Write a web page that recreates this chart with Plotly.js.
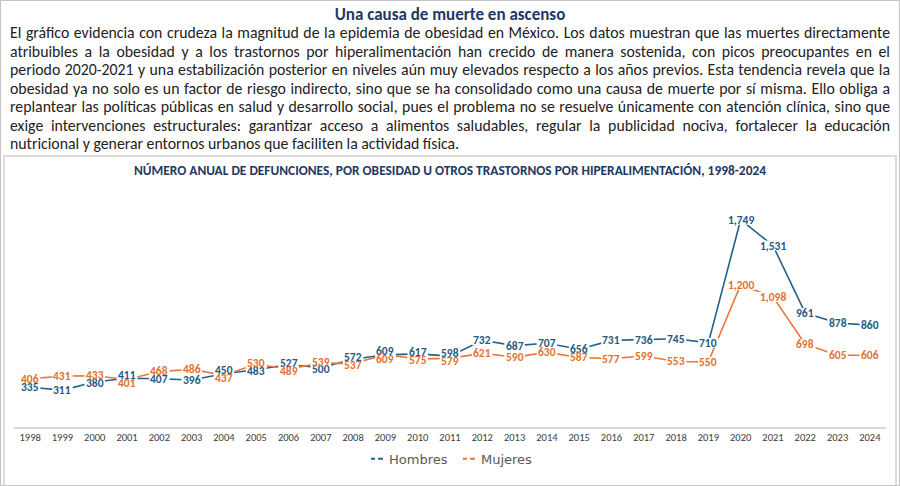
<!DOCTYPE html>
<html>
<head>
<meta charset="utf-8">
<script src="https://cdn.plot.ly/plotly-3.0.1.min.js"></script>
<style>
  html, body { margin:0; padding:0; background:#fff; }
  #page { position:relative; width:900px; height:486px; overflow:hidden; background:#fff; }
  #outer { position:absolute; left:0; top:0; width:900px; height:486px; box-sizing:border-box; border:1px solid #c4c4c4; pointer-events:none; z-index:5; }
  #box { position:absolute; left:3px; top:155px; width:894px; height:340px; box-sizing:border-box; border:2px solid #dcdcdc; pointer-events:none; z-index:4; }
  #chart { position:absolute; left:0; top:0; width:900px; height:486px; }
  #head { position:absolute; left:0; top:5px; width:900px; text-align:center; font-family:Carlito, 'DejaVu Sans Condensed', sans-serif; font-weight:bold; font-size:17px; line-height:20px; color:#1f3864; z-index:3; }
  #para { position:absolute; left:10px; top:24px; width:880px; font-family:Carlito, 'DejaVu Sans Condensed', sans-serif; font-size:15.8px; line-height:18.5px; color:#222; z-index:3; }
  #para div { text-align:justify; text-align-last:justify; white-space:nowrap; height:18.5px; }
  #para div.last { text-align-last:left; }
</style>
</head>
<body>
<div id="page">
  <div id="chart"></div>
  <div id="head">Una causa de muerte en ascenso</div>
  <div id="para"></div>
  <div id="box"></div>
  <div id="outer"></div>
</div>
<script>
// ---- data ----
const years = ['1998','1999','2000','2001','2002','2003','2004','2005','2006','2007','2008','2009','2010','2011','2012','2013','2014','2015','2016','2017','2018','2019','2020','2021','2022','2023','2024'];
const hombres = [335,311,380,411,407,396,450,483,527,500,572,609,617,598,732,687,707,656,731,736,745,710,1749,1531,961,878,860];
const mujeres = [406,431,433,401,468,486,437,530,489,539,537,609,575,579,621,590,630,587,577,599,553,550,1200,1098,698,605,606];
const seriesNames = ['Hombres','Mujeres'];
const chartTitle = 'NÚMERO ANUAL DE DEFUNCIONES, POR OBESIDAD U OTROS TRASTORNOS POR HIPERALIMENTACIÓN, 1998-2024';
const paraLines = [
  'El gráfico evidencia con crudeza la magnitud de la epidemia de obesidad en México. Los datos muestran que las muertes directamente',
  'atribuibles a la obesidad y a los trastornos por hiperalimentación han crecido de manera sostenida, con picos preocupantes en el',
  'periodo 2020-2021 y una estabilización posterior en niveles aún muy elevados respecto a los años previos. Esta tendencia revela que la',
  'obesidad ya no solo es un factor de riesgo indirecto, sino que se ha consolidado como una causa de muerte por sí misma. Ello obliga a',
  'replantear las políticas públicas en salud y desarrollo social, pues el problema no se resuelve únicamente con atención clínica, sino que',
  'exige intervenciones estructurales: garantizar acceso a alimentos saludables, regular la publicidad nociva, fortalecer la educación',
  'nutricional y generar entornos urbanos que faciliten la actividad física.'
];

// ---- text block ----
const para = document.getElementById('para');
paraLines.forEach((t, i) => {
  const d = document.createElement('div');
  d.textContent = t;
  if (i === paraLines.length - 1) d.className = 'last';
  para.appendChild(d);
});

// ---- chart ----
const NARROW = "Carlito, 'DejaVu Sans Condensed', sans-serif";
const BLUE = '#22618a';
const BLUE_TXT = '#1f5a80';
const ORANGE = '#e8783a';
const ORANGE_TXT = '#e2712f';
const LEG_DASH = '0px,17px,4px,3px,5px,40px';
const LABEL_SIZE = 11.5;
const Y_MAX = 2000, PLOT_H = 246;          // plot height in px (486 - 190 - 50)
const PX_PER_UNIT = PLOT_H / Y_MAX;
const MIN_SEP = 8;                         // minimum vertical gap between the two labels of a year, px

const traces = [
  {x: years, y: hombres, type:'scatter', mode:'lines', line:{color:BLUE, width:1.6}, showlegend:false, hoverinfo:'skip'},
  {x: years, y: mujeres, type:'scatter', mode:'lines', line:{color:ORANGE, width:1.6}, showlegend:false, hoverinfo:'skip'},
  {x:[null], y:[null], type:'scatter', mode:'lines', name: seriesNames[0], line:{color:BLUE, width:2, dash:LEG_DASH}},
  {x:[null], y:[null], type:'scatter', mode:'lines', name: seriesNames[1], line:{color:ORANGE, width:2, dash:LEG_DASH}}
];

const fmt = v => v.toLocaleString('en-US');
const shapes = [], labels = [];
function addLabel(i, v, shift, color) {
  const t = fmt(v);
  const digits = t.replace(/,/g, '').length, commas = t.length - digits;
  const halfW = (digits * 0.507 + commas * 0.25) * LABEL_SIZE / 2 + 1.5;
  // white box beneath the label text that interrupts the line (like a spreadsheet data label)
  shapes.push({type:'rect', layer:'above', xref:'x', yref:'y',
    xsizemode:'pixel', xanchor:i, x0:-halfW, x1:halfW,
    ysizemode:'pixel', yanchor:v, y0:shift - 5, y1:shift + 5,
    fillcolor:'#ffffff', line:{width:0}});
  labels.push({x: i, y: v, xref:'x', yref:'y', text: t, showarrow:false, yshift: shift,
    font:{family: NARROW, size: LABEL_SIZE, color: color, weight:'bold'}});
}
years.forEach((yr, i) => {
  const h = hombres[i], m = mujeres[i];
  const d = Math.abs(h - m) * PX_PER_UNIT;
  let sh = 0, sm = 0;
  if (d < MIN_SEP) {
    const s = (MIN_SEP - d) / 2;
    if (h >= m) { sh = s; sm = -s; } else { sh = -s; sm = s; }
  }
  addLabel(i, h, sh, BLUE_TXT);
  addLabel(i, m, sm, ORANGE_TXT);
});

const layout = {
  width: 900, height: 486,
  margin: {l:14, r:14, t:190, b:50},
  paper_bgcolor:'rgba(0,0,0,0)', plot_bgcolor:'rgba(0,0,0,0)',
  title: {text: '<b>' + chartTitle + '</b>', x:0.5, xanchor:'center', y: 1 - 170/486, yanchor:'middle', yref:'container',
          font:{family: NARROW, size:13.4, color:'#1f3864'}},
  xaxis: {type:'category', range:[-0.5, years.length - 0.5], showgrid:false, zeroline:false,
          showline:true, linecolor:'#d9d9d9', linewidth:1.5, ticks:'', fixedrange:true,
          tickfont:{family: NARROW, size:10.5, color:'#404040'}},
  yaxis: {range:[0, Y_MAX], visible:false, showgrid:false, zeroline:false, fixedrange:true},
  showlegend: true,
  legend: {orientation:'h', x:(349-14)/872, xanchor:'left', y:-0.134, yanchor:'middle',
           entrywidth:47, entrywidthmode:'pixels',
           font:{family:"'DejaVu Sans', sans-serif", size:13, color:'#595959'}, itemwidth:30,
           bgcolor:'rgba(0,0,0,0)'},
  shapes: shapes,
  annotations: labels
};

Plotly.newPlot('chart', traces, layout, {displayModeBar:false, staticPlot:true});
</script>
</body>
</html>
